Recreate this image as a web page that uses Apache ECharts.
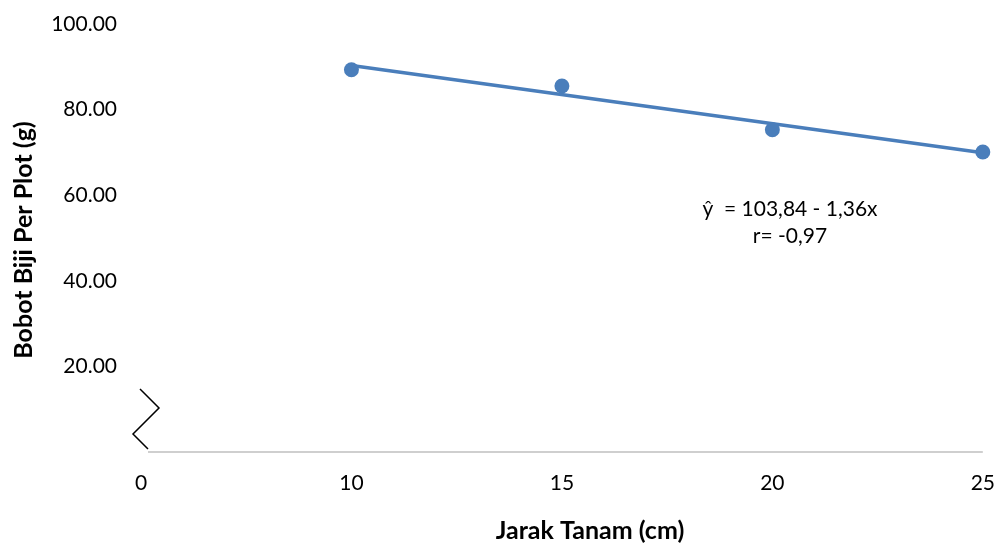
<!DOCTYPE html>
<html>
<head>
<meta charset="utf-8">
<script src="https://cdn.jsdelivr.net/npm/echarts@6/dist/echarts.min.js"></script>
<style>html,body{margin:0;padding:0;background:#fff}#c{width:998px;height:546px}</style>
</head>
<body>
<div id="c"></div>
<script>
// Data
var jarakTanam = [10, 15, 20, 25];
var bobotBiji = [89.3, 85.5, 75.3, 70.1];
var trendX = [10, 25];
var trendY = [90.3, 69.9];
var xTickValues = [5, 10, 15, 20, 25];
var xTickLabels = ['0', '10', '15', '20', '25'];
var yTickValues = [20, 40, 60, 80, 100];
var yTickLabels = ['20.00', '40.00', '60.00', '80.00', '100.00'];
var equationText = 'ŷ  = 103,84 - 1,36x\nr= -0,97';
var xTitle = 'Jarak Tanam (cm)';
var yTitle = 'Bobot Biji Per Plot (g)';

var FONT = 'Lato';
var BLUE = '#4a7ebb';
var AXIS = '#bfbfbf';

var chart = echarts.init(document.getElementById('c'), null, {renderer: 'canvas'});

var scatterData = jarakTanam.map(function (x, i) { return [x, bobotBiji[i]]; });
var trendData = trendX.map(function (x, i) { return [x, trendY[i]]; });

chart.setOption({
  animation: false,
  backgroundColor: '#fff',
  grid: {left: 141, right: 15, top: 24, bottom: 94},
  xAxis: {
    type: 'value', min: 5, max: 25, interval: 5,
    axisLine: {show: false}, axisTick: {show: false}, splitLine: {show: false},
    axisLabel: {
      margin: 21, color: '#000', fontFamily: FONT, fontSize: 21,
      formatter: function (v) {
        var i = xTickValues.indexOf(v);
        return i >= 0 ? xTickLabels[i] : '';
      }
    }
  },
  yAxis: {
    type: 'value', min: 0, max: 100, interval: 20,
    axisLine: {show: false}, axisTick: {show: false}, splitLine: {show: false},
    axisLabel: {
      margin: 24, color: '#000', fontFamily: FONT, fontSize: 21,
      formatter: function (v) {
        var i = yTickValues.indexOf(v);
        return i >= 0 ? yTickLabels[i] : '';
      }
    }
  },
  series: [
    {
      type: 'line', data: trendData, showSymbol: false, symbol: 'none',
      lineStyle: {color: BLUE, width: 3.5}, z: 2
    },
    {
      type: 'scatter', data: scatterData, symbol: 'circle', symbolSize: 15,
      itemStyle: {color: BLUE, opacity: 1}, z: 3
    }
  ]
});

var o = chart.convertToPixel({gridIndex: 0}, [5, 0]);
var top = chart.convertToPixel({gridIndex: 0}, [5, 100]);
var end = chart.convertToPixel({gridIndex: 0}, [25, 0]);

chart.setOption({
  graphic: [
    {type: 'line', shape: {x1: o[0], y1: top[1], x2: o[0], y2: o[1] - 63},
     style: {stroke: AXIS, lineWidth: 1.5}},
    {type: 'line', shape: {x1: o[0] + 7, y1: o[1], x2: end[0], y2: o[1]},
     style: {stroke: AXIS, lineWidth: 1.5}},
    {type: 'polyline', shape: {points: [[o[0] - 1, o[1] - 63], [o[0] + 18, o[1] - 44], [o[0] - 8, o[1] - 18], [o[0] + 7, o[1] - 3]]},
     style: {stroke: '#000', lineWidth: 1.5, fill: null}},
    {type: 'text', x: 790, y: 223,
     style: {text: equationText, fill: '#000', font: '21px ' + FONT, align: 'center', verticalAlign: 'middle', lineHeight: 27}},
    {type: 'text', x: 590, y: 531,
     style: {text: xTitle, fill: '#000', font: 'bold 25px ' + FONT, align: 'center', verticalAlign: 'middle'}},
    {type: 'text', x: 24, y: 240, rotation: Math.PI / 2,
     style: {text: yTitle, fill: '#000', font: 'bold 25px ' + FONT, align: 'center', verticalAlign: 'middle'}}
  ]
});
</script>
</body>
</html>
